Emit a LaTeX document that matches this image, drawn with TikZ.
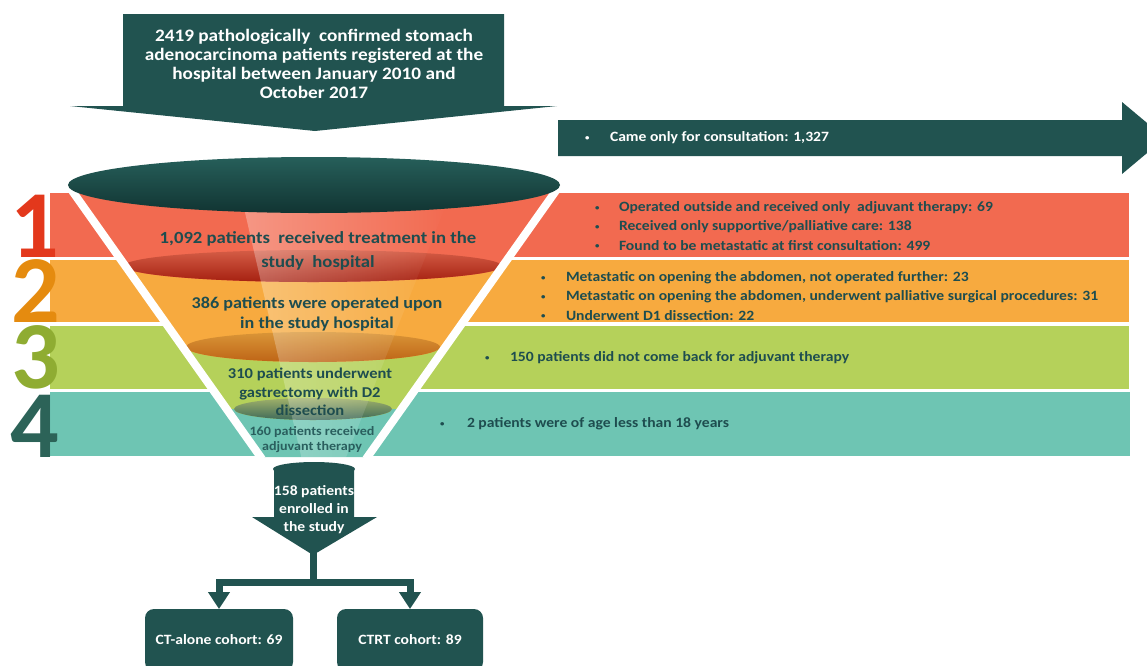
\documentclass[tikz,border=0pt]{standalone}
\usepackage{fontspec}
\setmainfont{Carlito}[FakeStretch=1.1]
\newfontfamily\numfont{Carlito}
\usetikzlibrary{arrows.meta,fadings}
\definecolor{dteal}{RGB}{33,83,80}
\definecolor{tdark}{RGB}{30,77,79}
\definecolor{redf}{RGB}{242,106,80}
\definecolor{orangef}{RGB}{247,170,63}
\definecolor{greenf}{RGB}{181,209,90}
\definecolor{tealf}{RGB}{110,197,179}
\definecolor{redd}{RGB}{165,32,16}
\definecolor{oranged}{RGB}{190,100,22}
\definecolor{greend}{RGB}{62,105,90}
\definecolor{numa}{RGB}{227,56,28}
\definecolor{numb}{RGB}{229,139,15}
\definecolor{numc}{RGB}{143,172,50}
\definecolor{numd}{RGB}{44,99,88}
\definecolor{ellt}{RGB}{38,95,90}
\definecolor{ellb}{RGB}{17,52,50}
\newcommand{\bulletitem}[2]{\makebox[#1][l]{\raisebox{0.2ex}{\fontsize{8}{8}\selectfont\textbullet}}#2}
\begin{document}
\begin{tikzpicture}[x=1pt,y=-1pt,
  every node/.style={inner sep=0pt, outer sep=0pt},
  bandtext/.style={text=tdark, font=\fontsize{14.2}{19.2}\selectfont\bfseries, align=left, anchor=west},
  whitetext/.style={text=white, font=\fontsize{14.2}{18}\selectfont\bfseries, align=center},
  bignum/.style={font=\fontsize{96}{96}\numfont\bfseries, anchor=base, text height=62pt, text depth=0pt},
  funtext/.style={text=tdark, align=center},
  cohort/.style={fill=dteal, rounded corners=9pt, text=white, font=\fontsize{14.2}{16}\selectfont\bfseries, minimum height=62pt, anchor=north},
  conn/.style={draw=dteal, line width=7pt, line join=miter}
]
\useasboundingbox (0,0) rectangle (1147,665);

% top arrow
\fill[dteal] (123,14) -- (504,14) -- (504,106) -- (557,106) -- (315,131) -- (70,106) -- (123,106) -- cycle;
\node[text=white, font=\fontsize{17.5}{19}\selectfont\bfseries, align=center] (src) at (314,64)
 {2419 pathologically\ \ confirmed stomach\\adenocarcinoma patients registered at the\\hospital between January 2010 and\\October 2017};

% right arrow
\fill[dteal] (558,120) -- (1122,120) -- (1122,102) -- (1165,138) -- (1122,174) -- (1122,156) -- (558,156) -- cycle;
\node[bandtext, text=white] (cons) at (585,138) {\bulletitem{25pt}{Came only for consultation: 1,327}};

% bands
\fill[redf] (50,193) rectangle (1129,257);
\fill[orangef] (50,260) rectangle (1129,322);
\fill[greenf] (50,326) rectangle (1129,389);
\fill[tealf] (50,392) rectangle (1130,456);

% funnel interior
\begin{scope}
\clip (68,185) -- (560,185) -- (366,457) -- (262,457) -- cycle;
\fill[tealf] (0,150) rectangle (700,470);
\fill[greenf] (0,150) rectangle (700,409);
\fill[greenf] (313,409) ellipse [x radius=79, y radius=11];
\fill[orangef] (0,150) rectangle (700,347);
\fill[orangef] (313,347) ellipse [x radius=127, y radius=15];
\fill[redf] (0,150) rectangle (700,266);
\fill[redf] (313,266) ellipse [x radius=189, y radius=16];
\shade[top color=redf!88!black, bottom color=redd] (313,266) ellipse [x radius=189, y radius=16];
\shade[top color=orangef!88!black, bottom color=oranged] (313,347) ellipse [x radius=127, y radius=15];
\shade[top color=greenf!60!gray, bottom color=greend] (313,409) ellipse [x radius=79, y radius=11];
\fill[white, fill opacity=0.3, path fading=east] (241,195) -- (450,195) -- (345,460) -- (302,460) -- cycle;
\end{scope}

% white separators
\draw[white, line width=8pt] (68,185) -- (262,459);
\draw[white, line width=8pt] (560,185) -- (366,459);

% top ellipse
\shade[top color=ellt, bottom color=ellb] (314,185) ellipse [x radius=246, y radius=28];

% big numbers
\node[bignum, text=numa] (n1) at (35,257) {1};
\node[bignum, text=numb] (n2) at (36,322) {2};
\node[bignum, text=numc] (n3) at (36,388) {3};
\node[bignum, text=numd] (n4) at (35,457) {4};

% funnel texts
\node[funtext, font=\fontsize{17}{24.5}\selectfont\bfseries] (f1) at (318,251)
 {1,092 patients\ \ received treatment in the\\study\ \ hospital};
\node[funtext, font=\fontsize{16.5}{20}\selectfont\bfseries] (f2) at (317,314)
 {386 patients were operated upon\\in the study hospital};
\node[funtext, font=\fontsize{15}{18.5}\selectfont\bfseries] (f3) at (310,392)
 {310 patients underwent\\gastrectomy with D2\\dissection};
\node[funtext, text=tdark!85!tealf, font=\fontsize{12.8}{15}\selectfont\bfseries] (f4) at (312,440)
 {160 patients received\\adjuvant therapy};

% band texts
\node[bandtext] (r1) at (595,226)
 {\bulletitem{24pt}{Operated outside and received only\ \ adjuvant therapy: 69}\\
  \bulletitem{24pt}{Received only supportive/palliative care: 138}\\
  \bulletitem{24pt}{Found to be metastatic at first consultation: 499}};
\node[bandtext] (r2) at (541,296)
 {\bulletitem{25pt}{Metastatic on opening the abdomen, not operated further: 23}\\
  \bulletitem{25pt}{Metastatic on opening the abdomen, underwent palliative surgical procedures: 31}\\
  \bulletitem{25pt}{Underwent D1 dissection: 22}};
\node[bandtext] (r3) at (485,358) {\bulletitem{25pt}{150 patients did not come back for adjuvant therapy}};
\node[bandtext] (r4) at (440,424) {\bulletitem{27pt}{2 patients were of age less than 18 years}};

% enrolled arrow
\fill[dteal] (274,469) -- (274,517) -- (252,517) -- (313,555) -- (377,517) -- (354,517) -- (354,469) -- cycle;
\fill[dteal] (314,469) ellipse [x radius=41, y radius=7];
\node[whitetext] (enrol) at (314,510) {158 patients\\enrolled in\\the study};
\coordinate (tip) at (313,553);
\coordinate (split) at (313,582);

% cohorts
\node[cohort, minimum width=148pt] (ct) at (219,609) {CT-alone cohort: 69};
\node[cohort, minimum width=146pt] (ctrt) at (410,609) {CTRT cohort: 89};

% connectors
\draw[conn] (tip) -- (split);
\draw[conn, {Triangle[width=21pt,length=17pt]}-{Triangle[width=21pt,length=17pt]}]
  (ct.north) |- (split) -| (ctrt.north);
\end{tikzpicture}
\end{document}
